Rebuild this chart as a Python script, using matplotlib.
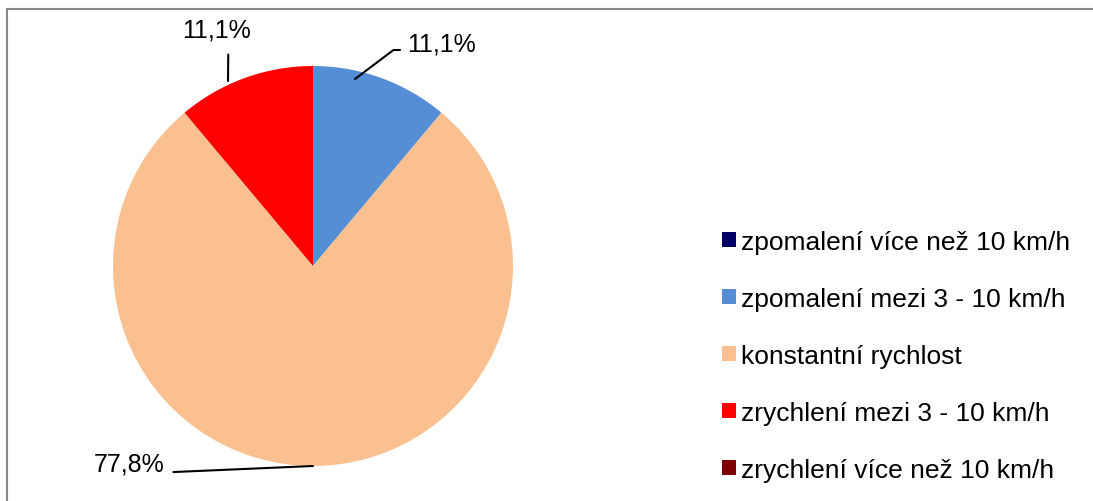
import matplotlib
matplotlib.use('Agg')
import matplotlib.pyplot as plt
from matplotlib.patches import Rectangle

plt.rcParams['font.family'] = ['Liberation Sans', 'DejaVu Sans']

# data
kategorie = ['zpomalení více než 10 km/h',
             'zpomalení mezi 3 - 10 km/h',
             'konstantní rychlost',
             'zrychlení mezi 3 - 10 km/h',
             'zrychlení více než 10 km/h']
podily = [0.0, 11.1, 77.8, 11.1, 0.0]
barvy = ['#000066', '#558ED5', '#FAC090', '#FF0000', '#7F0000']

W, H = 1093, 502
fig = plt.figure(figsize=(W / 100, H / 100), dpi=100)

# osa pres celou plochu, 1 jednotka = 200 px, stred kolace v (313, 267)
ax = fig.add_axes([0, 0, 1, 1])
cx, cy, r = 313, 267, 200
wedges, _ = ax.pie(podily, colors=barvy, startangle=90, counterclock=False,
                   radius=1.0, wedgeprops=dict(linewidth=0))
ax.set_aspect('auto')
ax.set_xlim(-cx / r, (W - cx) / r)
ax.set_ylim((cy - H) / r, cy / r)
ax.axis('off')

def px(x, y):
    return ((x - cx) / r, (cy - y) / r)

def popis(v):
    return f'{v:.1f}%'.replace('.', ',')

# popisky hodnot (jen nenulove)
# zpomaleni 3-10
ax.annotate(popis(podily[1]), xy=px(355, 80), xytext=px(407, 45),
            fontsize=18, va='center', ha='left',
            arrowprops=dict(arrowstyle='-', color='black', lw=1.5,
                            connectionstyle='angle,angleA=0,angleB=37,rad=0',
                            shrinkA=3, shrinkB=0, relpos=(0, 0.25)))
# konstantni
ax.annotate(popis(podily[2]), xy=px(313, 467), xytext=px(165, 465),
            fontsize=18, va='center', ha='right',
            arrowprops=dict(arrowstyle='-', color='black', lw=1.5,
                            shrinkA=4, shrinkB=0, relpos=(1, 0.15)))
# zrychleni 3-10
ax.annotate(popis(podily[3]), xy=px(228, 82), xytext=px(216, 31),
            fontsize=18, va='center', ha='center',
            arrowprops=dict(arrowstyle='-', color='black', lw=1.5,
                            shrinkA=7, shrinkB=0, relpos=(0.68, 0)))

leg = fig.legend(wedges, kategorie, loc='center left',
                 bbox_to_anchor=(722 / W, 1 - 357 / H), frameon=False,
                 fontsize=19, handlelength=0.53, handleheight=0.53,
                 handletextpad=0.2, labelspacing=1.25, borderpad=0,
                 borderaxespad=0)

# ramecek grafu
fig.patches.append(Rectangle((7 / W, -0.1), 1.2, 1 - 10 / H + 0.1,
                             transform=fig.transFigure, fill=False,
                             edgecolor='#888888', lw=1.5))

fig.savefig('out.png', dpi=100)
